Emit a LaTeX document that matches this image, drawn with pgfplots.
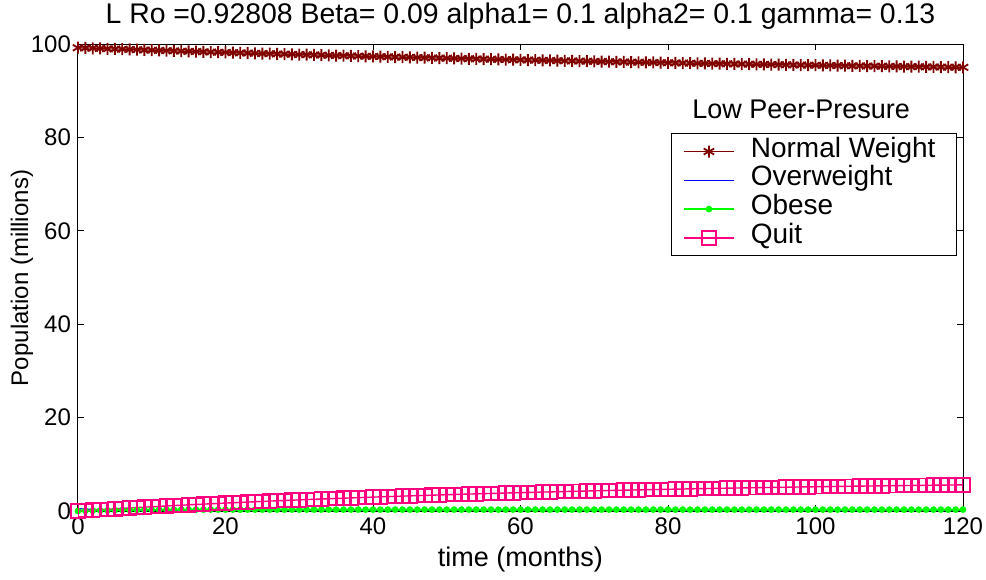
\documentclass[border=0pt]{standalone}
\usepackage{pgfplots}
\pgfplotsset{compat=1.18}
\usepackage{pgfplotstable}
\usepackage{fontspec}
\setmainfont{Liberation Sans}
\definecolor{nw}{RGB}{128,0,0}
\definecolor{qt}{RGB}{255,0,128}
\definecolor{ob}{RGB}{0,255,0}
\definecolor{ow}{RGB}{0,0,255}
\pgfplotstableread{
t N W O Q
0 99.20 0.50 0.00 0.00
1 99.15 0.42 0.05 0.10
2 99.09 0.36 0.09 0.19
3 99.04 0.31 0.13 0.29
4 98.98 0.27 0.16 0.38
5 98.93 0.24 0.19 0.47
6 98.88 0.22 0.21 0.56
7 98.83 0.20 0.23 0.65
8 98.78 0.19 0.25 0.74
9 98.72 0.18 0.26 0.82
10 98.67 0.17 0.27 0.91
11 98.62 0.17 0.28 0.99
12 98.57 0.16 0.29 1.08
13 98.52 0.16 0.30 1.16
14 98.48 0.16 0.30 1.24
15 98.43 0.16 0.30 1.32
16 98.38 0.16 0.30 1.40
17 98.33 0.16 0.30 1.47
18 98.28 0.16 0.30 1.55
19 98.24 0.16 0.30 1.62
20 98.19 0.16 0.30 1.70
21 98.14 0.15 0.30 1.77
22 98.10 0.15 0.30 1.84
23 98.05 0.15 0.30 1.91
24 98.01 0.15 0.30 1.98
25 97.96 0.15 0.30 2.05
26 97.92 0.15 0.30 2.12
27 97.87 0.15 0.30 2.19
28 97.83 0.15 0.30 2.25
29 97.79 0.15 0.30 2.32
30 97.74 0.15 0.30 2.38
31 97.70 0.15 0.30 2.44
32 97.66 0.15 0.30 2.51
33 97.62 0.15 0.30 2.57
34 97.57 0.15 0.30 2.63
35 97.53 0.15 0.30 2.69
36 97.49 0.15 0.30 2.75
37 97.45 0.15 0.30 2.80
38 97.41 0.15 0.30 2.86
39 97.37 0.15 0.30 2.92
40 97.33 0.15 0.30 2.97
41 97.29 0.14 0.30 3.03
42 97.25 0.14 0.30 3.08
43 97.21 0.14 0.30 3.13
44 97.17 0.14 0.30 3.19
45 97.14 0.14 0.30 3.24
46 97.10 0.14 0.30 3.29
47 97.06 0.14 0.30 3.34
48 97.02 0.14 0.30 3.39
49 96.99 0.14 0.30 3.44
50 96.95 0.14 0.30 3.49
51 96.91 0.14 0.30 3.53
52 96.88 0.14 0.30 3.58
53 96.84 0.14 0.30 3.63
54 96.81 0.14 0.30 3.67
55 96.77 0.14 0.30 3.72
56 96.74 0.14 0.30 3.76
57 96.70 0.14 0.30 3.80
58 96.67 0.14 0.30 3.85
59 96.63 0.14 0.30 3.89
60 96.60 0.14 0.30 3.93
61 96.57 0.13 0.30 3.97
62 96.53 0.13 0.30 4.01
63 96.50 0.13 0.30 4.05
64 96.47 0.13 0.30 4.09
65 96.43 0.13 0.30 4.13
66 96.40 0.13 0.30 4.17
67 96.37 0.13 0.30 4.21
68 96.34 0.13 0.30 4.24
69 96.31 0.13 0.30 4.28
70 96.28 0.13 0.30 4.32
71 96.24 0.13 0.30 4.35
72 96.21 0.13 0.30 4.39
73 96.18 0.13 0.30 4.42
74 96.15 0.13 0.30 4.46
75 96.12 0.13 0.30 4.49
76 96.09 0.13 0.30 4.52
77 96.06 0.13 0.30 4.56
78 96.04 0.13 0.30 4.59
79 96.01 0.13 0.30 4.62
80 95.98 0.13 0.30 4.65
81 95.95 0.12 0.30 4.68
82 95.92 0.12 0.30 4.71
83 95.89 0.12 0.30 4.74
84 95.86 0.12 0.30 4.77
85 95.84 0.12 0.30 4.80
86 95.81 0.12 0.30 4.83
87 95.78 0.12 0.30 4.86
88 95.76 0.12 0.30 4.89
89 95.73 0.12 0.30 4.91
90 95.70 0.12 0.30 4.94
91 95.68 0.12 0.30 4.97
92 95.65 0.12 0.30 4.99
93 95.62 0.12 0.30 5.02
94 95.60 0.12 0.30 5.05
95 95.57 0.12 0.30 5.07
96 95.55 0.12 0.30 5.10
97 95.52 0.12 0.30 5.12
98 95.50 0.12 0.30 5.15
99 95.47 0.12 0.30 5.17
100 95.45 0.12 0.30 5.19
101 95.42 0.12 0.30 5.22
102 95.40 0.12 0.30 5.24
103 95.38 0.12 0.30 5.26
104 95.35 0.12 0.30 5.28
105 95.33 0.12 0.30 5.31
106 95.31 0.12 0.30 5.33
107 95.28 0.12 0.30 5.35
108 95.26 0.12 0.30 5.37
109 95.24 0.12 0.30 5.39
110 95.22 0.12 0.30 5.41
111 95.19 0.12 0.30 5.43
112 95.17 0.12 0.30 5.45
113 95.15 0.12 0.30 5.47
114 95.13 0.12 0.30 5.49
115 95.10 0.12 0.30 5.51
116 95.08 0.12 0.30 5.53
117 95.06 0.12 0.30 5.55
118 95.04 0.12 0.30 5.56
119 95.02 0.12 0.30 5.58
120 95.00 0.12 0.30 5.60
}\data
\begin{document}
\begin{tikzpicture}
\useasboundingbox (-39pt,-34pt) rectangle (454pt,255.5pt);
\begin{axis}[
  scale only axis,
  width=442.5pt, height=233.5pt,
  at={(0,0)}, anchor=south west,
  xmin=0, xmax=120, ymin=0, ymax=100,
  xtick={0,20,...,120}, ytick={0,20,...,100},
  tick align=inside, tick pos=both,
  major tick length=3pt,
  axis line style={line width=0.5pt, black},
  every tick/.style={black, line width=0.5pt},
  /pgf/number format/assume math mode=true,
  tick label style={font=\fontsize{12}{14}\selectfont},
  clip=false,
  legend style={at={(rel axis cs:0.9932,0.8094)}, anchor=north east,
    draw=black, line width=0.5pt, font=\fontsize{14}{15}\selectfont,
    inner xsep=6pt, inner ysep=1.8pt, row sep=0pt,
    nodes={inner sep=0pt, text height=10pt, text depth=4.4pt},
    /tikz/every odd column/.append style={column sep=8pt}},
  legend cell align=left,
  legend image code/.code={\draw[mark repeat=2,mark phase=2,#1] plot coordinates {(0pt,0pt) (12.5pt,0pt) (25pt,0pt)};},
]
\addplot[color=nw, line width=0.6pt, mark=asterisk, mark size=3pt, mark options={line width=0.9pt}] table[x=t,y=N] {\data};
\addlegendentry{Normal Weight\kern4.5pt}
\addplot[color=ow, line width=0.6pt] table[x=t,y=W] {\data};
\addlegendentry{Overweight}
\addplot[color=ob, line width=0.9pt, mark=*, mark size=1.2pt] table[x=t,y=O] {\data};
\addlegendentry{Obese}
\addplot[color=qt, line width=0.7pt, mark=square, mark size=3.4pt, mark options={line width=0.9pt}] table[x=t,y=Q] {\data};
\addlegendentry{Quit}
\node[anchor=base, font=\fontsize{13.5}{15}\selectfont, inner sep=0pt] at (rel axis cs:0.817,0.8415) {Low Peer-Presure};
\node[anchor=base, font=\fontsize{14.2}{15}\selectfont, inner sep=0pt] at (rel axis cs:0.5,1) [yshift=10pt] {L Ro =0.92808 Beta= 0.09 alpha1= 0.1 alpha2= 0.1 gamma= 0.13};
\node[anchor=base, font=\fontsize{13.5}{15}\selectfont, inner sep=0pt] at (rel axis cs:0.5,0) [yshift=-27.5pt] {time (months)};
\node[anchor=center, rotate=90, font=\fontsize{12}{14}\selectfont, inner sep=0pt] at ([xshift=-28pt]rel axis cs:0,0.499) {Population (millions)};
\end{axis}
\end{tikzpicture}
\end{document}
